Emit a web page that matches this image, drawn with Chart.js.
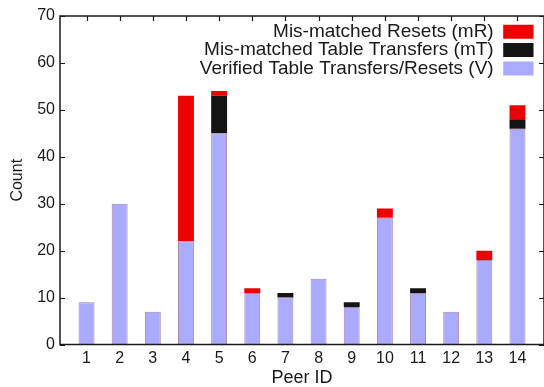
<!DOCTYPE html>
<html>
<head>
<meta charset="utf-8">
<script src="https://cdn.jsdelivr.net/npm/chart.js@4/dist/chart.umd.min.js"></script>
<style>
  html, body { margin: 0; padding: 0; background: #fff; }
  #wrap { width: 544px; height: 387px; }
</style>
</head>
<body>
<div id="wrap"><canvas id="c" width="544" height="387"></canvas></div>
<script>
// Peer IDs along the horizontal axis
const peers = [1, 2, 3, 4, 5, 6, 7, 8, 9, 10, 11, 12, 13, 14];
// Stacked counts per peer (bottom to top)
const verified        = [9, 30, 7, 22, 45, 11, 10, 14, 8, 27, 11, 7, 18, 46];
const mismatchedXfers = [0, 0, 0, 0, 8, 0, 1, 0, 1, 0, 1, 0, 0, 2];
const mismatchedReset = [0, 0, 0, 31, 1, 1, 0, 0, 0, 2, 0, 0, 2, 3];
// Value axis ticks
const countTicks = [0, 10, 20, 30, 40, 50, 60, 70];

const seriesNames = [
  'Verified Table Transfers/Resets (V)',
  'Mis-matched Table Transfers (mT)',
  'Mis-matched Resets (mR)'
];

const toPoints = vals => peers.map((p, i) => ({ x: p, y: vals[i] }));

const FONT = '"Liberation Sans", Arial, Helvetica, sans-serif';
const INK = '#1a1a1a';

// Inward tick marks drawn under the bars, frame drawn on top
const framePlugin = {
  id: 'frame',
  beforeDatasetsDraw(chart) {
    const { ctx, chartArea: a, scales: { x, y } } = chart;
    ctx.save();
    ctx.strokeStyle = INK;
    ctx.lineWidth = 1.2;
    ctx.beginPath();
    y.ticks.forEach(t => {
      const py = Math.round(y.getPixelForValue(t.value)) + 0.5;
      ctx.moveTo(a.left, py); ctx.lineTo(a.left + 5, py);
      ctx.moveTo(a.right, py); ctx.lineTo(a.right - 5, py);
    });
    x.ticks.forEach(t => {
      const px = Math.round(x.getPixelForValue(t.value)) + 0.5;
      ctx.moveTo(px, a.top); ctx.lineTo(px, a.top + 5);
      ctx.moveTo(px, a.bottom); ctx.lineTo(px, a.bottom - 5);
    });
    ctx.stroke();
    ctx.restore();
  },
  afterDatasetsDraw(chart) {
    const { ctx, chartArea: a } = chart;
    ctx.save();
    ctx.strokeStyle = INK;
    ctx.lineWidth = 1.5;
    ctx.strokeRect(a.left, a.top, a.right - a.left, a.bottom - a.top);
    ctx.restore();
  },
  // keep the key in the upper right corner of the plot
  afterLayout(chart) {
    const lg = chart.legend, a = chart.chartArea;
    if (!lg) return;
    lg.left = a.left;
    lg.right = a.right - 10.5;
    lg.width = lg.right - lg.left;
    lg.top = a.top + 7;
    lg.bottom = a.bottom;
    lg.height = lg.bottom - lg.top;
  }
};

new Chart(document.getElementById('c'), {
  type: 'bar',
  data: {
    datasets: [
      {
        label: seriesNames[0],
        data: toPoints(verified),
        backgroundColor: '#aaaaff',
        borderColor: 'rgba(150,110,150,0.85)',
        borderWidth: 1
      },
      {
        label: seriesNames[1],
        data: toPoints(mismatchedXfers),
        backgroundColor: '#141414',
        borderWidth: 0
      },
      {
        label: seriesNames[2],
        data: toPoints(mismatchedReset),
        backgroundColor: '#ee0000',
        borderWidth: 0
      }
    ]
  },
  options: {
    responsive: false,
    animation: false,
    devicePixelRatio: 1,
    barPercentage: 0.6,
    categoryPercentage: 0.8,
    layout: { padding: { top: 16, left: 0, right: -2, bottom: 0 } },
    plugins: {
      tooltip: { enabled: false },
      legend: {
        position: 'chartArea',
        align: 'start',
        reverse: true,
        rtl: true,
        textDirection: 'ltr',
        labels: {
          color: INK,
          font: { family: FONT, size: 19 },
          boxWidth: 31,
          boxHeight: 14,
          padding: -0.7,
          generateLabels(chart) {
            return Chart.defaults.plugins.legend.labels.generateLabels(chart)
              .map(l => Object.assign(l, { lineWidth: 0 }));
          }
        }
      }
    },
    scales: {
      x: {
        type: 'linear',
        stacked: true,
        offset: false,
        min: 0.2,
        max: 14.8,
        grid: { display: false, drawTicks: false },
        border: { display: false },
        afterBuildTicks(scale) { scale.ticks = peers.map(v => ({ value: v })); },
        afterFit(scale) { scale.height = 42.5; },
        ticks: {
          color: INK,
          font: { family: FONT, size: 16 },
          padding: 4,
          maxRotation: 0,
          autoSkip: false
        },
        title: {
          display: true,
          text: 'Peer ID',
          color: INK,
          font: { family: FONT, size: 18, lineHeight: 1 },
          padding: { top: 0, bottom: 0 }
        }
      },
      y: {
        stacked: true,
        min: 0,
        max: 70,
        grid: { display: false, drawTicks: false },
        border: { display: false },
        afterBuildTicks(scale) { scale.ticks = countTicks.map(v => ({ value: v })); },
        afterFit(scale) { scale.width = 60; },
        ticks: {
          color: INK,
          font: { family: FONT, size: 16 },
          padding: 5
        },
        title: {
          display: true,
          text: 'Count',
          color: INK,
          font: { family: FONT, size: 16, lineHeight: 1 },
          padding: { top: 10, bottom: 0 }
        }
      }
    }
  },
  plugins: [framePlugin]
});
</script>
</body>
</html>
